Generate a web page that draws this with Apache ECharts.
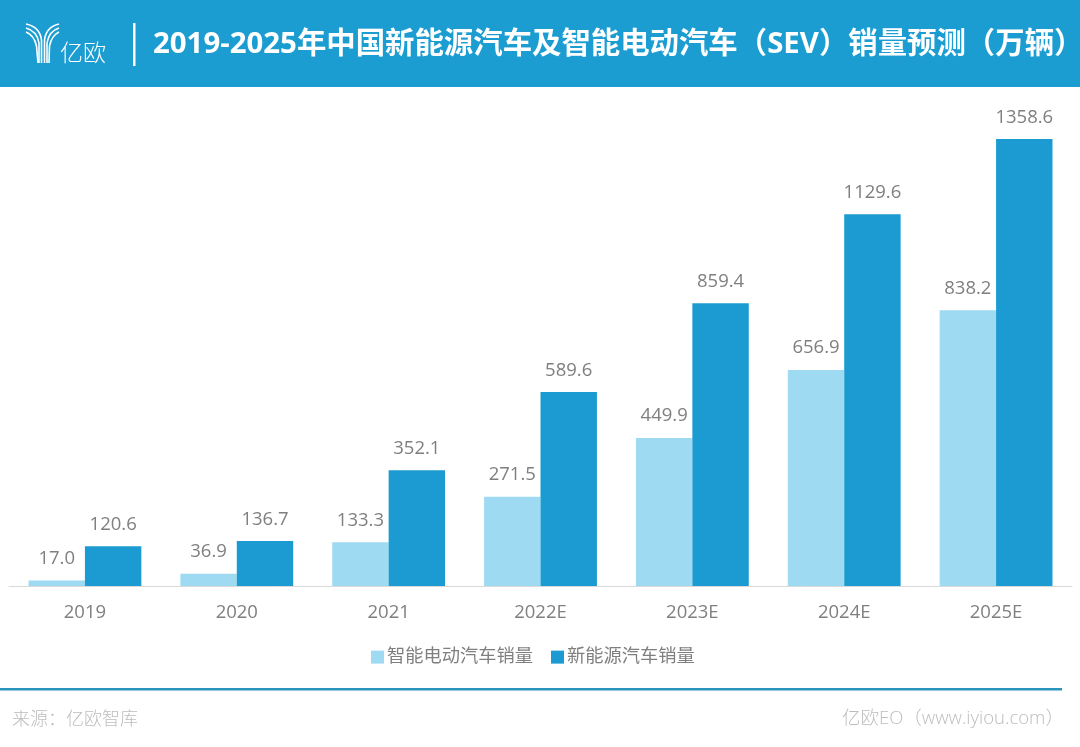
<!DOCTYPE html>
<html>
<head>
<meta charset="utf-8">
<style>
  html, body { margin: 0; padding: 0; background: #fff; }
  #chart { width: 1080px; height: 747px; }
</style>
<script src="https://cdn.jsdelivr.net/npm/echarts@6/dist/echarts.min.js"></script>
</head>
<body>
<div id="chart"></div>
<script>
// 数据
const categories = ['2019', '2020', '2021', '2022E', '2023E', '2024E', '2025E'];
const sevSales = [17.0, 36.9, 133.3, 271.5, 449.9, 656.9, 838.2];
const nevSales = [120.6, 136.7, 352.1, 589.6, 859.4, 1129.6, 1358.6];
const seriesNames = ['智能电动汽车销量', '新能源汽车销量'];
const titleText = '2019-2025年中国新能源汽车及智能电动汽车（SEV）销量预测（万辆）';

const FONT = '"Open Sans", "Noto Sans CJK SC", sans-serif';
const HEADER_BLUE = '#1c9dd2';

function barSeries(name, data, color) {
	return {
		name: name,
		type: 'bar',
		data: data,
		barGap: 0,
		barCategoryGap: '25.7%',
		itemStyle: { color: color },
		label: {
			show: true,
			position: 'top',
			distance: 12.5,
			color: '#7f7f7f',
			fontFamily: FONT,
			fontSize: 18.5,
			formatter: (p) => p.value.toFixed(1),
		},
	};
}

// logo 的一根线条：上面一段弧线 + 下面一段竖线
function logoStroke(x1, y1, cpx, cpy, x2, y2, x3, y3) {
	const style = { fill: 'none', stroke: '#fff', lineWidth: 1.6 };
	return [
		{ type: 'bezierCurve', shape: { x1: x1, y1: y1, cpx1: cpx, cpy1: cpy, x2: x2, y2: y2 }, style: style },
		{ type: 'line', shape: { x1: x2, y1: y2, x2: x3, y2: y3 }, style: style },
	];
}

const option = {
	animation: false,
	backgroundColor: '#fff',
	textStyle: { fontFamily: FONT },
	grid: { left: 9, right: 8, top: 125.4, bottom: 161 },
	legend: {
		data: seriesNames,
		left: 366,
		top: 643,
		icon: 'rect',
		itemWidth: 13,
		itemHeight: 13,
		itemGap: 18,
		textStyle: { color: '#7f7f7f', fontSize: 18.25, fontFamily: FONT, padding: [0, 0, 0, -2] },
	},
	xAxis: {
		type: 'category',
		data: categories,
		axisLine: { lineStyle: { color: '#d9d9d9', width: 1 } },
		axisTick: { show: false },
		axisLabel: { color: '#7f7f7f', fontSize: 18.5, fontFamily: FONT, margin: 17 },
	},
	yAxis: { type: 'value', min: 0, max: 1400, show: false },
	series: [
		barSeries(seriesNames[0], sevSales, '#9fdaf3'),
		barSeries(seriesNames[1], nevSales, '#1b9bd1'),
	],
	graphic: [
		{ type: 'rect', shape: { x: 0, y: 0, width: 1080, height: 87 }, style: { fill: HEADER_BLUE } },
		{ type: 'rect', shape: { x: 133, y: 23, width: 2.5, height: 43 }, style: { fill: '#fff' } },
		...logoStroke(26, 24, 40, 27, 41.5, 40, 41.5, 63),
		...logoStroke(26, 28, 37, 31, 39, 43, 39, 63),
		...logoStroke(26, 32, 34, 35, 36.5, 46, 38, 63),
		...logoStroke(59, 24, 46, 27, 44.5, 40, 44.5, 63),
		...logoStroke(59, 28, 49, 31, 47, 43, 47, 63),
		...logoStroke(59, 32, 52, 35, 49.5, 46, 49, 63),
		{
			type: 'text',
			x: 60, y: 41,
			style: { text: '亿欧', fill: '#fff', fontSize: 23, fontWeight: 300, fontFamily: '"Noto Sans CJK SC"' },
		},
		{
			type: 'text',
			x: 153, y: 30,
			style: { text: titleText, fill: '#fff', fontSize: 29.4, fontWeight: 'bold', fontFamily: FONT },
		},
		{ type: 'rect', shape: { x: 0, y: 688, width: 1062, height: 2.5 }, style: { fill: '#2b94bd' } },
		{
			type: 'text',
			x: 12, y: 709,
			style: { text: '来源：亿欧智库', fill: '#bdbdbd', fontSize: 18, fontWeight: 300, fontFamily: '"Noto Sans CJK SC"' },
		},
		{
			type: 'text',
			x: 842, y: 709,
			style: { text: '亿欧EO（www.iyiou.com）', fill: '#bdbdbd', fontSize: 18.5, fontWeight: 300, fontFamily: FONT },
		},
	],
};

const chart = echarts.init(document.getElementById('chart'), null, { renderer: 'canvas' });
chart.setOption(option);
</script>
</body>
</html>
